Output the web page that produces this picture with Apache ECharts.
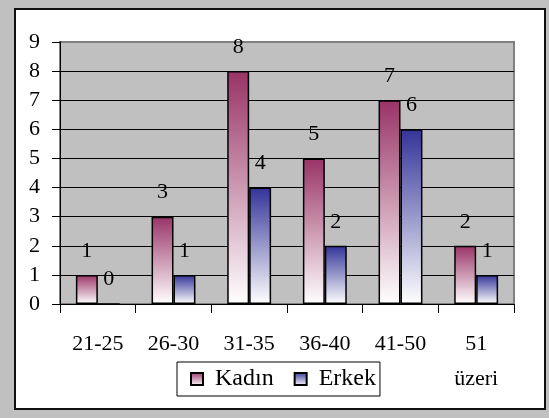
<!DOCTYPE html>
<html>
<head>
<meta charset="utf-8">
<style>
html,body{margin:0;padding:0;background:#c0c0c0;width:549px;height:418px;overflow:hidden;}
#frame{position:absolute;left:14px;top:8px;width:528px;height:398px;background:#fff;border:2px solid #111;}
#chart{position:absolute;left:0;top:0;width:549px;height:418px;}
</style>
<script src="https://cdn.jsdelivr.net/npm/echarts@6/dist/echarts.min.js"></script>
</head>
<body>
<div id="frame"></div>
<div id="chart"></div>
<script>
var categories = ['21-25', '26-30', '31-35', '36-40', '41-50', '51\nüzeri'];
var kadin = [1, 3, 8, 5, 7, 2];
var erkek = [0, 1, 4, 2, 6, 1];
var seriesNames = ['Kadın', 'Erkek'];

var font = '"Liberation Serif", "Times New Roman", serif';
function grad(c) {
  return new echarts.graphic.LinearGradient(0, 0, 0, 1, [
    {offset: 0, color: c},
    {offset: 1, color: '#ffffff'}
  ]);
}
var chart = echarts.init(document.getElementById('chart'), null, {renderer: 'canvas'});
var splitColors = ['#000','#000','#000','#000','#000','#000','#000','#000','#000','#808080'];
chart.setOption({
  animation: false,
  grid: {left: 60, right: 35, top: 42, bottom: 114, show: true, backgroundColor: '#c0c0c0', borderColor: '#808080', borderWidth: 2},
  legend: {
    data: seriesNames,
    left: 177, top: 362,
    padding: [5, 4, 5, 13],
    backgroundColor: '#fff',
    borderColor: '#000', borderWidth: 1,
    itemWidth: 12, itemHeight: 12, itemGap: 20,
    icon: 'rect',
    textStyle: {fontFamily: font, fontSize: 24, color: '#000', padding: [0, 0, 0, 7]}
  },
  xAxis: {
    type: 'category',
    data: categories,
    axisLine: {lineStyle: {color: '#000', width: 1}},
    axisTick: {show: true, length: 9, lineStyle: {color: '#000'}},
    axisLabel: {fontFamily: font, fontSize: 22, color: '#000', margin: 23, lineHeight: 35, interval: 0}
  },
  yAxis: {
    type: 'value', min: 0, max: 9, interval: 1,
    axisLine: {show: true, lineStyle: {color: '#000', width: 1}},
    axisTick: {show: true, length: 8, lineStyle: {color: '#000'}},
    axisLabel: {fontFamily: font, fontSize: 22, color: '#000', margin: 20},
    splitLine: {show: true, lineStyle: {color: splitColors, width: 1}}
  },
  series: [
    {
      name: seriesNames[0], type: 'bar', data: kadin,
      barCategoryGap: '42%', barGap: '0%',
      itemStyle: {color: grad('#993366'), borderColor: '#000', borderWidth: 1.5},
      label: {show: true, position: 'top', distance: 13, fontFamily: font, fontSize: 22, color: '#000'}
    },
    {
      name: seriesNames[1], type: 'bar', data: erkek,
      barCategoryGap: '42%', barGap: '0%',
      itemStyle: {color: grad('#333399'), borderColor: '#000', borderWidth: 1.5},
      label: {show: true, position: 'top', distance: 13, fontFamily: font, fontSize: 22, color: '#000'}
    }
  ]
});
</script>
</body>
</html>
